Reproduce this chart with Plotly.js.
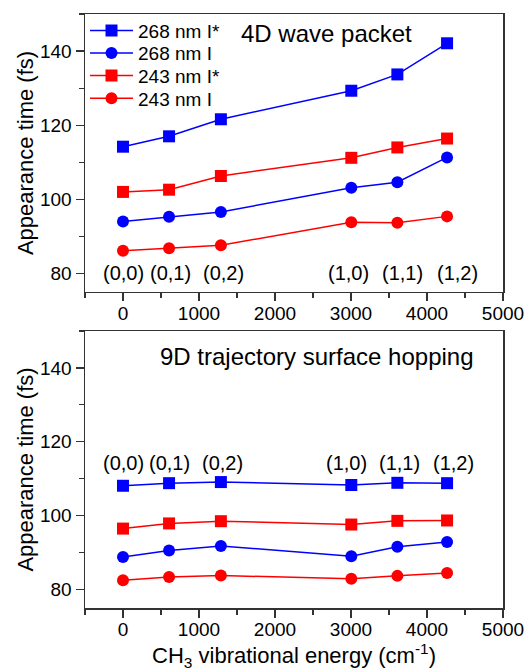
<!DOCTYPE html>
<html>
<head>
<meta charset="utf-8">
<script src="https://cdn.plot.ly/plotly-3.0.1.min.js"></script>
<style>html,body{margin:0;padding:0;background:#fff;}#chart{width:526px;height:671px;}</style>
</head>
<body>
<div id="chart"></div>
<script>
// CH3 vibrational energies (cm^-1) and state labels
const energy = [0, 606, 1288, 3004, 3610, 4264];
const stateLabels = ["(0,0)", "(0,1)", "(0,2)", "(1,0)", "(1,1)", "(1,2)"];

// 4D wave packet appearance times (fs)
const wp268Istar = [114.2, 117.0, 121.6, 129.3, 133.7, 142.1];
const wp268I     = [94.0, 95.3, 96.6, 103.1, 104.6, 111.3];
const wp243Istar = [102.0, 102.6, 106.3, 111.2, 114.0, 116.4];
const wp243I     = [86.1, 86.8, 87.6, 93.8, 93.7, 95.4];

// 9D trajectory surface hopping appearance times (fs)
const sh268Istar = [108.1, 108.8, 109.1, 108.3, 108.9, 108.8];
const sh268I     = [88.8, 90.6, 91.8, 89.0, 91.6, 92.9];
const sh243Istar = [96.5, 97.9, 98.5, 97.6, 98.6, 98.7];
const sh243I     = [82.5, 83.4, 83.8, 82.9, 83.7, 84.5];

const seriesNames = ["268 nm I*", "268 nm I", "243 nm I*", "243 nm I"];

const FONT = "Liberation Sans, Arial, sans-serif";
const BLUE = "#0000ff", RED = "#ff0000";
const styles = [
  {color: BLUE, symbol: "square"},
  {color: BLUE, symbol: "circle"},
  {color: RED, symbol: "square"},
  {color: RED, symbol: "circle"}
];
const legendIds = ["legend", "legend2", "legend3", "legend4"];

function mk(y, i, xa, ya, show) {
  return {
    x: energy, y: y, type: "scatter", mode: "lines+markers",
    name: seriesNames[i], xaxis: xa, yaxis: ya, showlegend: show,
    legend: legendIds[i],
    line: {color: styles[i].color, width: 1.5},
    marker: {color: styles[i].color, symbol: styles[i].symbol, size: 12}
  };
}

const traces = [
  mk(wp268Istar, 0, "x", "y", true),
  mk(wp268I, 1, "x", "y", true),
  mk(wp243Istar, 2, "x", "y", true),
  mk(wp243I, 3, "x", "y", true),
  mk(sh268Istar, 0, "x2", "y2", false),
  mk(sh268I, 1, "x2", "y2", false),
  mk(sh243Istar, 2, "x2", "y2", false),
  mk(sh243I, 3, "x2", "y2", false)
];

const topShift = [0, 1, 3, -3, 5, 10];
const botShift = [0, 0, 2, -5, 2, 6];

const annotations = [];
stateLabels.forEach((t, i) => {
  annotations.push({text: t, x: energy[i], y: 80, xref: "x", yref: "y",
    xshift: topShift[i], showarrow: false, xanchor: "center", yanchor: "middle",
    font: {family: FONT, size: 20, color: "#000"}});
  annotations.push({text: t, x: energy[i], y: 114.2, xref: "x2", yref: "y2",
    xshift: botShift[i], showarrow: false, xanchor: "center", yanchor: "middle",
    font: {family: FONT, size: 20, color: "#000"}});
});
annotations.push({text: "4D wave packet", xref: "x domain", yref: "y domain",
  x: 0.578, y: 0.931, showarrow: false, xanchor: "center", yanchor: "middle",
  font: {family: FONT, size: 24, color: "#000"}});
annotations.push({text: "9D trajectory surface hopping", xref: "x2 domain", yref: "y2 domain",
  x: 0.556, y: 0.909, showarrow: false, xanchor: "center", yanchor: "middle",
  font: {family: FONT, size: 24, color: "#000"}});

const xcommon = {
  range: [-500, 5000], dtick: 1000, tick0: 0, ticks: "outside", ticklen: 8, tickwidth: 1.2,
  tickcolor: "#333", showline: true, linecolor: "#333", linewidth: 1.5, mirror: true,
  showgrid: false, zeroline: false, ticklabelstandoff: -4,
  tickfont: {family: FONT, size: 19, color: "#000"},
  minor: {dtick: 500, ticks: "outside", ticklen: 5, tickcolor: "#333", tickwidth: 1.2, showgrid: false}
};
const ycommon = {
  range: [75, 150], dtick: 20, tick0: 0, ticks: "outside", ticklen: 8, tickwidth: 1.2,
  tickcolor: "#333", showline: true, linecolor: "#333", linewidth: 1.5, mirror: true,
  showgrid: false, zeroline: false,
  tickfont: {family: FONT, size: 19, color: "#000"},
  minor: {dtick: 10, ticks: "outside", ticklen: 5, tickcolor: "#333", tickwidth: 1.2, showgrid: false},
  title: {text: "Appearance time (fs)", font: {family: FONT, size: 22, color: "#000"}, standoff: 0}
};

const legendY = [0.9719, 0.934, 0.8961, 0.8581];
function leg(y) {
  return {x: 0, y: y, xanchor: "left", yanchor: "middle", bgcolor: "rgba(0,0,0,0)",
    borderwidth: 0, font: {family: FONT, size: 19, color: "#000"}, itemwidth: 43};
}

const layout = {
  width: 526, height: 671,
  margin: {l: 85, r: 23, t: 14, b: 63},
  paper_bgcolor: "#fff", plot_bgcolor: "#fff",
  showlegend: true,
  legend: leg(legendY[0]),
  legend2: leg(legendY[1]),
  legend3: leg(legendY[2]),
  legend4: leg(legendY[3]),
  xaxis: Object.assign({}, xcommon, {domain: [0, 1], anchor: "y"}),
  yaxis: Object.assign({}, ycommon, {domain: [0.532, 1], anchor: "x"}),
  xaxis2: Object.assign({}, xcommon, {domain: [0, 1], anchor: "y2",
    title: {text: "CH<sub>3</sub> vibrational energy (cm<sup>-1</sup>)", font: {family: FONT, size: 22, color: "#000"}, standoff: 11}}),
  yaxis2: Object.assign({}, ycommon, {domain: [0, 0.4663], anchor: "x2"}),
  annotations: annotations
};

Plotly.newPlot("chart", traces, layout, {displayModeBar: false, staticPlot: true});
</script>
</body>
</html>
